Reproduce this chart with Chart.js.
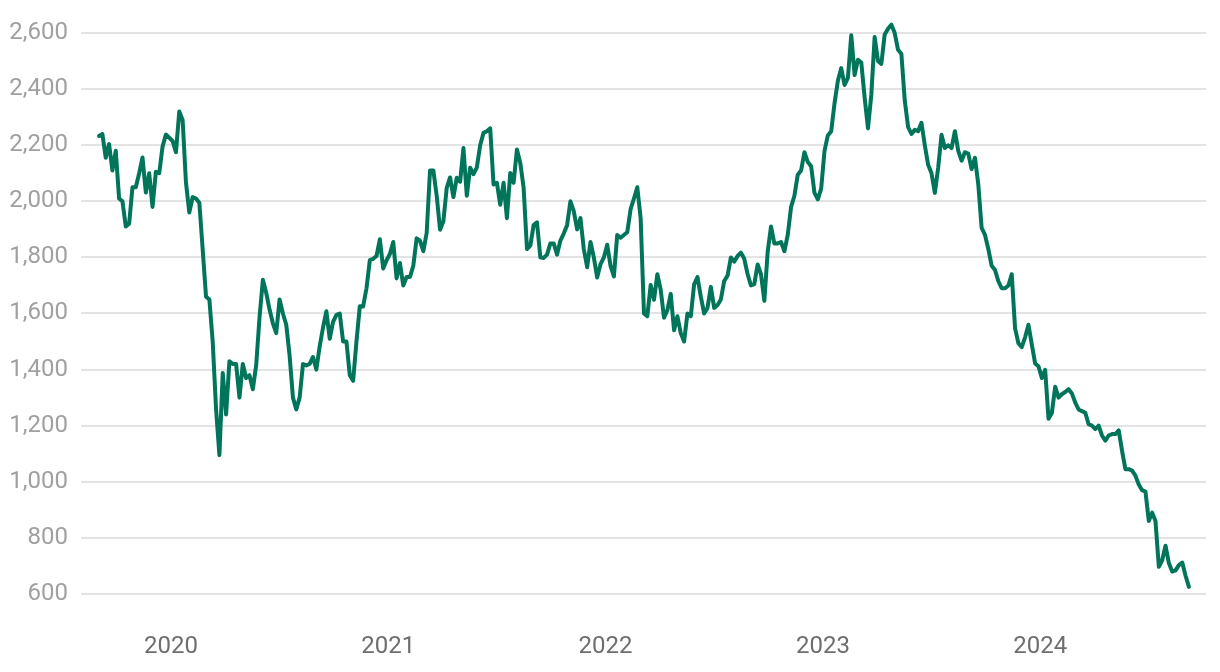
<!DOCTYPE html>
<html>
<head>
<meta charset="utf-8">
<script src="https://cdn.jsdelivr.net/npm/chart.js@4.4.1/dist/chart.umd.min.js"></script>
<style>
  html, body { margin: 0; padding: 0; background: #ffffff; }
  #wrap { width: 1220px; height: 672px; position: relative; }
</style>
</head>
<body>
<div id="wrap"><canvas id="c"></canvas></div>
<script>
// Series: one value every 1/65 of a year, starting at the end of Aug 2019
const startYear = 2019.669;
const stepYears = 1 / 65;
const values = [
  2233, 2240, 2155, 2204, 2110, 2180, 2010, 2000, 1910, 1920,
  2050, 2050, 2100, 2156, 2031, 2100, 1980, 2105, 2100, 2195,
  2238, 2227, 2215, 2175, 2320, 2290, 2067, 1960, 2015, 2010,
  1995, 1829, 1660, 1650, 1500, 1260, 1095, 1388, 1240, 1430,
  1420, 1420, 1300, 1420, 1370, 1380, 1330, 1415, 1585, 1720,
  1674, 1614, 1565, 1530, 1650, 1600, 1560, 1450, 1300, 1258,
  1300, 1420, 1415, 1420, 1445, 1400, 1483, 1550, 1608, 1510,
  1570, 1595, 1600, 1500, 1500, 1380, 1360, 1500, 1626, 1625,
  1690, 1790, 1795, 1805, 1865, 1760, 1790, 1812, 1855, 1725,
  1780, 1700, 1730, 1730, 1770, 1868, 1860, 1822, 1887, 2110,
  2110, 2020, 1899, 1929, 2048, 2085, 2015, 2084, 2070, 2190,
  2020, 2120, 2097, 2120, 2200, 2244, 2250, 2260, 2060, 2066,
  1988, 2066, 1940, 2101, 2066, 2185, 2137, 2048, 1830, 1842,
  1915, 1925, 1800, 1798, 1810, 1850, 1850, 1810, 1860, 1885,
  1915, 2000, 1965, 1900, 1940, 1830, 1765, 1855, 1800, 1728,
  1776, 1800, 1845, 1770, 1732, 1880, 1870, 1880, 1890, 1972,
  2010, 2050, 1940, 1600, 1590, 1702, 1649, 1740, 1685, 1585,
  1612, 1670, 1540, 1590, 1530, 1500, 1600, 1590, 1704, 1730,
  1660, 1600, 1620, 1695, 1620, 1630, 1650, 1716, 1735, 1800,
  1785, 1805, 1817, 1795, 1740, 1700, 1705, 1775, 1740, 1645,
  1820, 1910, 1850, 1850, 1855, 1822, 1880, 1980, 2020, 2095,
  2110, 2175, 2140, 2125, 2030, 2007, 2045, 2180, 2235, 2250,
  2350, 2430, 2475, 2415, 2440, 2592, 2450, 2505, 2495, 2370,
  2260, 2380, 2586, 2500, 2490, 2595, 2615, 2630, 2600, 2540,
  2525, 2360, 2265, 2240, 2255, 2250, 2280, 2200, 2130, 2100,
  2030, 2120, 2237, 2190, 2200, 2190, 2250, 2180, 2145, 2175,
  2170, 2115, 2155, 2060, 1905, 1880, 1830, 1770, 1755, 1715,
  1690, 1690, 1700, 1740, 1547, 1494, 1480, 1515, 1560, 1490,
  1422, 1412, 1370, 1399, 1225, 1245, 1339, 1300, 1312, 1320,
  1330, 1315, 1282, 1258, 1252, 1246, 1205, 1200, 1188, 1200,
  1165, 1147, 1165, 1170, 1170, 1183, 1110, 1045, 1045, 1040,
  1022, 990, 970, 965, 860, 890, 860, 697, 720, 772,
  710, 680, 684, 703, 712, 665, 625
];
const xTickValues = [2020, 2021, 2022, 2023, 2024];
const xTickLabels = ['2020', '2021', '2022', '2023', '2024'];
const yTickValues = [600, 800, 1000, 1200, 1400, 1600, 1800, 2000, 2200, 2400, 2600];

const points = values.map((v, i) => ({ x: startYear + i * stepYears, y: v }));

Chart.defaults.font.family = 'Roboto, "Noto Sans", sans-serif';

new Chart(document.getElementById('c'), {
  type: 'line',
  data: {
    datasets: [{
      data: points,
      borderColor: '#00755a',
      borderWidth: 4,
      pointRadius: 0,
      tension: 0,
      fill: false,
      borderJoinStyle: 'round',
      borderCapStyle: 'round'
    }]
  },
  options: {
    responsive: true,
    maintainAspectRatio: false,
    animation: false,
    layout: { padding: { top: 12, right: 14, bottom: 0, left: 0 } },
    plugins: { legend: { display: false }, tooltip: { enabled: false } },
    scales: {
      x: {
        type: 'linear',
        min: 2019.586,
        max: 2024.763,
        grid: { display: false, drawTicks: false },
        border: { display: false },
        afterBuildTicks: s => { s.ticks = xTickValues.map(v => ({ value: v })); },
        afterFit: s => { s.paddingLeft = 0; s.paddingRight = 0; },
        ticks: {
          padding: 13,
          color: '#6e6e6e',
          font: { size: 24, lineHeight: 1 },
          maxRotation: 0,
          autoSkip: false,
          callback: v => xTickLabels[xTickValues.indexOf(v)] ?? ''
        }
      },
      y: {
        min: 500,
        max: 2675,
        grid: { color: '#e3e3e3', lineWidth: 2, drawTicks: false },
        border: { display: false },
        afterBuildTicks: s => { s.ticks = yTickValues.map(v => ({ value: v })); },
        afterFit: s => { s.width = 81; s.paddingTop = 0; s.paddingBottom = 0; },
        ticks: {
          padding: 13,
          color: '#a0a0a0',
          font: { size: 24, lineHeight: 1 },
          callback: v => v.toLocaleString('en-US')
        }
      }
    }
  }
});
</script>
</body>
</html>
